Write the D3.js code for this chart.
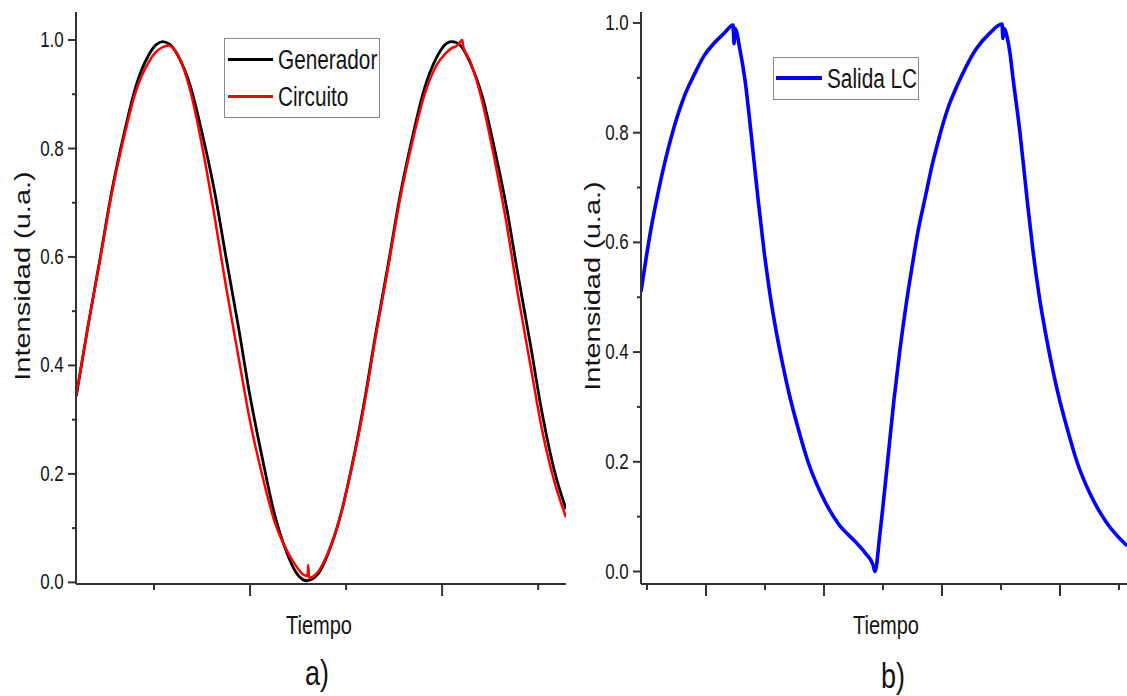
<!DOCTYPE html>
<html lang="es">
<head>
<meta charset="UTF-8">
<title>Generador, Circuito y Salida LC</title>
<script src="https://d3js.org/d3.v7.min.js"></script>
<style>
  body { margin: 0; background: #fff; }
  svg text { font-family: "Liberation Sans", Arial, sans-serif; fill: #141414; }
</style>
</head>
<body>
<div id="chart"></div>
<script>
// panel a) generator signal vs circuit signal (time in tick units)
const genT = [0.19, 0.31, 0.44, 0.56, 0.69, 0.81, 0.94, 1.02, 1.09, 1.17,
              1.25, 1.38, 1.50, 1.63, 1.75, 1.88, 2.00, 2.13, 2.25, 2.38,
              2.48, 2.59, 2.71, 2.81, 2.94, 3.06, 3.19, 3.31, 3.44, 3.56,
              3.69, 3.81, 3.94, 4.04, 4.10, 4.19, 4.29, 4.42, 4.54, 4.67,
              4.79, 4.92, 5.04, 5.17, 5.29];
const genV = [0.343, 0.470, 0.599, 0.721, 0.829, 0.914, 0.971, 0.991, 0.997, 0.991,
              0.971, 0.914, 0.829, 0.721, 0.599, 0.470, 0.343, 0.227, 0.129, 0.056,
              0.018, 0.003, 0.016, 0.052, 0.122, 0.214, 0.333, 0.460, 0.588, 0.711,
              0.820, 0.907, 0.967, 0.993, 0.997, 0.990, 0.959, 0.895, 0.804, 0.692,
              0.567, 0.438, 0.313, 0.205, 0.135];

const cirT = [0.19, 0.31, 0.44, 0.56, 0.69, 0.81, 0.94, 1.02, 1.09, 1.15,
              1.25, 1.38, 1.50, 1.63, 1.75, 1.88, 2.00, 2.13, 2.25, 2.38,
              2.48, 2.55, 2.60, 2.605, 2.615, 2.65, 2.71, 2.81, 2.94, 3.06,
              3.19, 3.31, 3.44, 3.56, 3.69, 3.81, 3.94, 4.04, 4.10, 4.16,
              4.21, 4.22, 4.29, 4.42, 4.54, 4.67, 4.79, 4.92, 5.04, 5.17,
              5.29];
const cirV = [0.345, 0.470, 0.597, 0.717, 0.823, 0.905, 0.958, 0.978, 0.987, 0.990,
              0.972, 0.905, 0.805, 0.675, 0.545, 0.415, 0.297, 0.195, 0.115, 0.060,
              0.030, 0.015, 0.012, 0.032, 0.008, 0.010, 0.020, 0.054, 0.122, 0.212,
              0.328, 0.455, 0.583, 0.705, 0.812, 0.895, 0.953, 0.976, 0.985, 0.990,
              1.000, 0.988, 0.962, 0.885, 0.785, 0.662, 0.530, 0.400, 0.282, 0.185,
              0.120];

// panel b) LC output
const lcT = [0.898, 0.983, 1.068, 1.186, 1.322, 1.458, 1.627, 1.797, 1.966, 2.136,
             2.305, 2.458, 2.475, 2.492, 2.576, 2.661, 2.763, 2.881, 2.983, 3.085,
             3.203, 3.305, 3.407, 3.559, 3.729, 3.949, 4.237, 4.542, 4.712, 4.831,
             4.864, 4.949, 5.068, 5.186, 5.288, 5.390, 5.492, 5.593, 5.712, 5.831,
             5.949, 6.102, 6.254, 6.407, 6.576, 6.814, 7.017, 7.034, 7.059, 7.102,
             7.153, 7.203, 7.322, 7.441, 7.542, 7.644, 7.763, 7.864, 7.966, 8.119,
             8.288, 8.508, 8.797, 9.136];
const lcV = [0.51, 0.57, 0.625, 0.69, 0.755, 0.81, 0.865, 0.905, 0.94, 0.963,
             0.981, 0.996, 0.962, 0.99, 0.951, 0.896, 0.80, 0.68, 0.585, 0.505,
             0.43, 0.375, 0.325, 0.262, 0.200, 0.142, 0.088, 0.053, 0.032, 0.012,
             0.0, 0.07, 0.19, 0.313, 0.405, 0.485, 0.555, 0.62, 0.68, 0.74,
             0.79, 0.845, 0.885, 0.92, 0.952, 0.982, 0.998, 0.972, 0.99, 0.975,
             0.945, 0.90, 0.80, 0.68, 0.585, 0.505, 0.43, 0.375, 0.325, 0.262,
             0.200, 0.142, 0.088, 0.047];

const yTicks = [0, 0.2, 0.4, 0.6, 0.8, 1.0];
const yMinor = [0.1, 0.3, 0.5, 0.7, 0.9];
const xMajorA = [2, 4];
const xMinorA = [1, 3, 5];
const xMajorB = [2, 4, 6, 8];
const xMinorB = [1, 3, 5, 7, 9];
const legendA = ["Generador", "Circuito"];
const legendB = ["Salida LC"];
const xTitle = "Tiempo";
const yTitle = "Intensidad (u.a.)";
const tags = ["a)", "b)"];

const W = 1127, H = 696;
const SX = 0.77;   // the original figure is squeezed sideways
const axisColor = "#333333";

const svg = d3.select("#chart").append("svg")
  .attr("width", W).attr("height", H)
  .style("display", "block");

function squeezed(g, x, y, str, size, anchor, rotate) {
  return g.append("text")
    .attr("transform", `translate(${x},${y}) scale(${SX},1)` + (rotate ? " rotate(-90)" : ""))
    .attr("text-anchor", anchor)
    .attr("font-size", size)
    .text(str);
}

function drawAxes(x, y, xMajor, xMinor) {
  const x0 = x.range()[0];
  const y0 = y.range()[0];

  const yAx = svg.append("g")
    .attr("transform", `translate(${x0},0)`)
    .style("color", axisColor)
    .call(d3.axisLeft(y).tickValues(yTicks).tickSize(8).tickSizeOuter(0)
      .tickPadding(8).offset(0).tickFormat(d3.format(".1f")));
  yAx.selectAll("path, line").attr("stroke-width", 2);
  yAx.selectAll("text")
    .attr("font-size", 22)
    .attr("fill", "#141414")
    .attr("transform", `scale(${SX},1)`);

  const yMin = svg.append("g")
    .attr("transform", `translate(${x0},0)`)
    .style("color", axisColor)
    .call(d3.axisLeft(y).tickValues(yMinor).tickSize(4).tickFormat("").offset(0));
  yMin.select(".domain").remove();
  yMin.selectAll("line").attr("stroke-width", 2);

  const xAx = svg.append("g")
    .attr("transform", `translate(0,${y0})`)
    .style("color", axisColor)
    .call(d3.axisBottom(x).tickValues(xMajor).tickSize(12).tickSizeOuter(0)
      .tickFormat("").offset(0));
  xAx.selectAll("path, line").attr("stroke-width", 2);

  const xMin = svg.append("g")
    .attr("transform", `translate(0,${y0})`)
    .style("color", axisColor)
    .call(d3.axisBottom(x).tickValues(xMinor).tickSize(6).tickFormat("").offset(0));
  xMin.select(".domain").remove();
  xMin.selectAll("line").attr("stroke-width", 2);
}

function drawSeries(x, y, T, V, color, width, clipId) {
  const line = d3.line()
    .x(i => x(T[i]))
    .y(i => y(V[i]))
    .curve(d3.curveMonotoneX);
  svg.append("path")
    .datum(d3.range(T.length))
    .attr("clip-path", `url(#${clipId})`)
    .attr("fill", "none")
    .attr("stroke", color)
    .attr("stroke-width", width)
    .attr("stroke-linejoin", "round")
    .attr("d", line);
}

function addClip(id, x, y) {
  svg.append("clipPath").attr("id", id)
    .append("rect")
    .attr("x", x.range()[0]).attr("y", y.range()[1])
    .attr("width", x.range()[1] - x.range()[0])
    .attr("height", y.range()[0] - y.range()[1]);
}

// ---------- panel a ----------
const xA = d3.scaleLinear().domain([0.1875, 5.29]).range([76, 566]);
const yA = d3.scaleLinear().domain([-0.003, 1.0516]).range([584, 12]);
addClip("clipA", xA, yA);
drawSeries(xA, yA, genT, genV, "#000000", 2.8, "clipA");
drawSeries(xA, yA, cirT, cirV, "#ff0000", 2.5, "clipA");
drawAxes(xA, yA, xMajorA, xMinorA);

const legA = svg.append("g");
legA.append("rect")
  .attr("x", 224.5).attr("y", 38.5).attr("width", 155).attr("height", 79)
  .attr("fill", "#fff").attr("stroke", "#8a8a8a").attr("stroke-width", 1);
const legColorsA = ["#000000", "#ff0000"];
const legRowsA = [59.5, 96.5];
legendA.forEach((name, i) => {
  legA.append("line")
    .attr("x1", 228).attr("x2", 273)
    .attr("y1", legRowsA[i]).attr("y2", legRowsA[i])
    .attr("stroke", legColorsA[i]).attr("stroke-width", 3);
  squeezed(legA, 278, legRowsA[i] + 9.5, name, 27, "start");
});

squeezed(svg, 319, 634, xTitle, 26, "middle");
squeezed(svg, 30, 276, yTitle, 29, "middle", true);
squeezed(svg, 317, 685, tags[0], 35, "middle");

// ---------- panel b ----------
const xB = d3.scaleLinear().domain([0.898, 9.136]).range([641, 1127]);
const yB = d3.scaleLinear().domain([-0.0228, 1.020]).range([584, 12]);
addClip("clipB", xB, yB);
drawSeries(xB, yB, lcT, lcV, "#0000ff", 3.6, "clipB");
drawAxes(xB, yB, xMajorB, xMinorB);

const legB = svg.append("g");
legB.append("rect")
  .attr("x", 773.5).attr("y", 57.5).attr("width", 145).attr("height", 42)
  .attr("fill", "#fff").attr("stroke", "#8a8a8a").attr("stroke-width", 1);
legB.append("line")
  .attr("x1", 776).attr("x2", 822).attr("y1", 78).attr("y2", 78)
  .attr("stroke", "#0000ff").attr("stroke-width", 4);
squeezed(legB, 827, 87.5, legendB[0], 27, "start");

squeezed(svg, 886, 634, xTitle, 26, "middle");
squeezed(svg, 600, 286, yTitle, 29, "middle", true);
squeezed(svg, 893, 688, tags[1], 35, "middle");
</script>
</body>
</html>
